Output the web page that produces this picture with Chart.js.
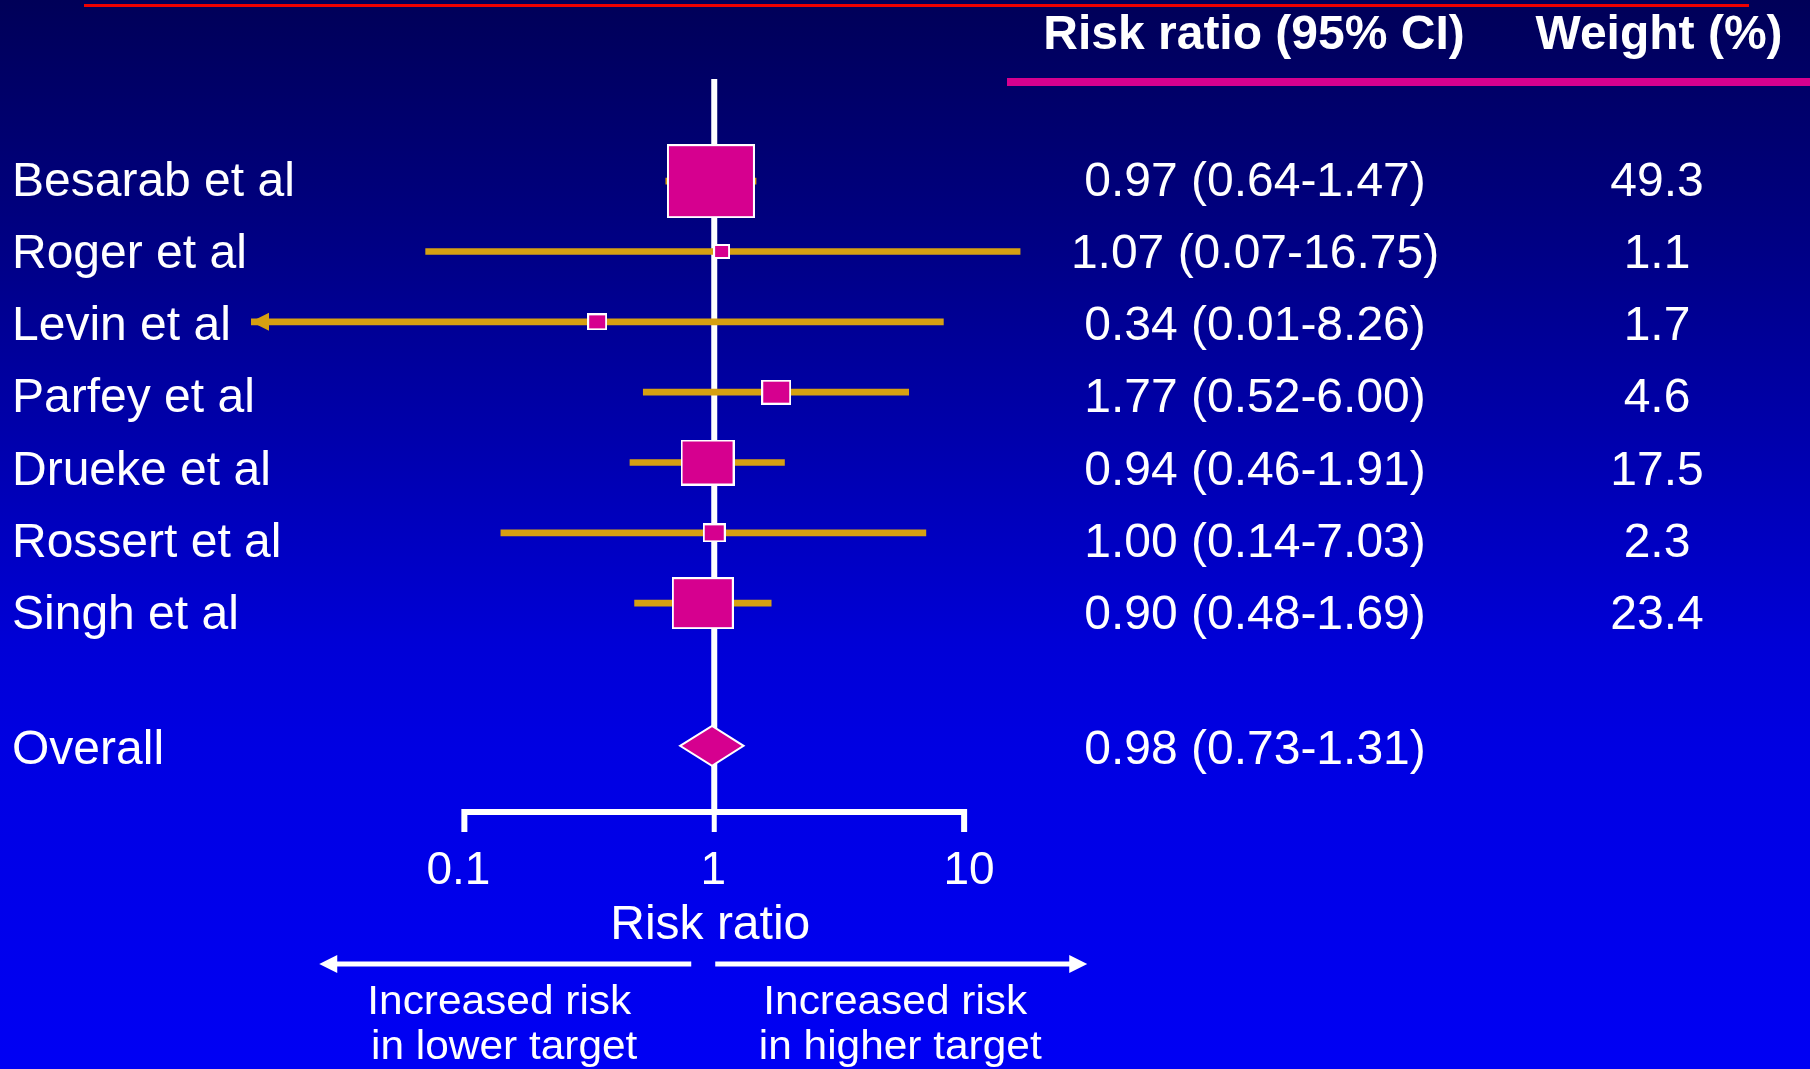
<!DOCTYPE html>
<html>
<head>
<meta charset="utf-8">
<script src="https://cdn.jsdelivr.net/npm/chart.js@4.4.0/dist/chart.umd.min.js"></script>
<style>
html, body { margin: 0; padding: 0; overflow: hidden; background: #0000b0; }
#wrap { width: 1810px; height: 1069px; position: relative; }
</style>
</head>
<body>
<div id="wrap"><canvas id="forestChart"></canvas></div>
<script>
// study data
var studies = ["Besarab et al", "Roger et al", "Levin et al", "Parfey et al", "Drueke et al", "Rossert et al", "Singh et al"];
var riskRatio = [0.97, 1.07, 0.34, 1.77, 0.94, 1.00, 0.90];
var ciLower = [0.64, 0.07, 0.01, 0.52, 0.46, 0.14, 0.48];
var ciUpper = [1.47, 16.75, 8.26, 6.00, 1.91, 7.03, 1.69];
var weights = [49.3, 1.1, 1.7, 4.6, 17.5, 2.3, 23.4];
var overallLabel = "Overall";
var overall = [0.98, 0.73, 1.31];   // estimate, lower, upper
var axisTicks = [0.1, 1, 10];
var axisTickLabels = ["0.1", "1", "10"];

var MAGENTA = "#d6008f";
var GOLD = "#d6a012";
var FONT = "'Liberation Sans', Arial, sans-serif";

var rowLabels = studies.concat(["", overallLabel]);

// square markers, size from weight
function makeBox(w) {
  var c = document.createElement('canvas');
  c.width = Math.round(w);
  c.height = Math.round(w * 0.84);
  var g = c.getContext('2d');
  g.fillStyle = '#ffffff';
  g.fillRect(0, 0, c.width, c.height);
  g.fillStyle = MAGENTA;
  g.fillRect(2, 2, c.width - 4, c.height - 4);
  return c;
}
var boxes = weights.map(function (w) { return makeBox(5 + 11.8 * Math.sqrt(w)); });

function fmt2(v) { return v.toFixed(2); }

var forestDecor = {
  id: 'forestDecor',
  beforeDraw: function (chart) {
    var ctx = chart.ctx;
    var grad = ctx.createLinearGradient(0, 0, 0, chart.height);
    grad.addColorStop(0, '#000058');
    grad.addColorStop(0.2, '#00007e');
    grad.addColorStop(0.6, '#0000d6');
    grad.addColorStop(0.7, '#0000e2');
    grad.addColorStop(1, '#0000f4');
    ctx.save();
    ctx.fillStyle = grad;
    ctx.fillRect(0, 0, chart.width, chart.height);
    ctx.restore();
  },
  beforeDatasetsDraw: function (chart) {
    var ctx = chart.ctx, x = chart.scales.x, area = chart.chartArea;
    var x1 = x.getPixelForValue(1);
    ctx.save();
    ctx.strokeStyle = '#ffffff';
    ctx.lineWidth = 6;
    ctx.beginPath();
    ctx.moveTo(x1, area.top - 67);
    ctx.lineTo(x1, area.bottom + 33);
    ctx.stroke();
    ctx.restore();
  },
  afterDatasetsDraw: function (chart) {
    var ctx = chart.ctx, xs = chart.scales.x, ys = chart.scales.y, area = chart.chartArea;
    var x1 = xs.getPixelForValue(1);
    ctx.save();

    // arrow for CI running off the scale
    ciLower.forEach(function (lo, i) {
      if (lo < xs.min) {
        var yy = ys.getPixelForValue(i);
        ctx.fillStyle = GOLD;
        ctx.beginPath();
        ctx.moveTo(area.left, yy);
        ctx.lineTo(area.left + 18, yy - 9);
        ctx.lineTo(area.left + 18, yy + 9);
        ctx.closePath();
        ctx.fill();
      }
    });

    // overall diamond
    var yo = ys.getPixelForValue(rowLabels.length - 1) + 2;
    ctx.beginPath();
    ctx.moveTo(xs.getPixelForValue(overall[1]), yo);
    ctx.lineTo(xs.getPixelForValue(overall[0]), yo - 20);
    ctx.lineTo(xs.getPixelForValue(overall[2]), yo);
    ctx.lineTo(xs.getPixelForValue(overall[0]), yo + 20);
    ctx.closePath();
    ctx.fillStyle = MAGENTA;
    ctx.fill();
    ctx.strokeStyle = '#ffffff';
    ctx.lineWidth = 2;
    ctx.stroke();

    // bottom axis 0.1 - 10
    var axY = area.bottom + 33;
    var xa = xs.getPixelForValue(axisTicks[0]);
    var xb = xs.getPixelForValue(axisTicks[axisTicks.length - 1]);
    ctx.strokeStyle = '#ffffff';
    ctx.lineWidth = 6;
    ctx.lineJoin = 'miter';
    ctx.beginPath();
    ctx.moveTo(xa, axY + 20);
    ctx.lineTo(xa, axY);
    ctx.lineTo(xb, axY);
    ctx.lineTo(xb, axY + 20);
    ctx.stroke();
    ctx.lineWidth = 5;
    axisTicks.slice(1, -1).forEach(function (t) {
      var tx = xs.getPixelForValue(t);
      ctx.beginPath();
      ctx.moveTo(tx, axY);
      ctx.lineTo(tx, axY + 20);
      ctx.stroke();
    });

    ctx.fillStyle = '#ffffff';
    ctx.textAlign = 'center';
    ctx.textBaseline = 'alphabetic';
    ctx.font = '46px ' + FONT;
    var tickNudge = [-6, -1, 5];
    axisTicks.forEach(function (t, i) {
      ctx.fillText(axisTickLabels[i], xs.getPixelForValue(t) + tickNudge[i], axY + 72);
    });
    ctx.font = '48px ' + FONT;
    ctx.fillText('Risk ratio', x1 - 4, axY + 127);

    // direction arrows
    var arY = axY + 152;
    ctx.lineWidth = 5;
    ctx.beginPath();
    ctx.moveTo(x1 - 23, arY);
    ctx.lineTo(x1 - 380, arY);
    ctx.moveTo(x1 + 1, arY);
    ctx.lineTo(x1 + 358, arY);
    ctx.stroke();
    ctx.beginPath();
    ctx.moveTo(x1 - 395, arY);
    ctx.lineTo(x1 - 377, arY - 9);
    ctx.lineTo(x1 - 377, arY + 9);
    ctx.closePath();
    ctx.moveTo(x1 + 373, arY);
    ctx.lineTo(x1 + 355, arY - 9);
    ctx.lineTo(x1 + 355, arY + 9);
    ctx.closePath();
    ctx.fill();

    function stretchText(txt, x, y, sx) {
      ctx.save();
      ctx.translate(x, y);
      ctx.scale(sx, 1);
      ctx.fillText(txt, 0, 0);
      ctx.restore();
    }
    ctx.font = '40px ' + FONT;
    stretchText('Increased risk', x1 - 215, arY + 50, 1.06);
    stretchText('in lower target', x1 - 210, arY + 95, 1.06);
    stretchText('Increased risk', x1 + 181, arY + 50, 1.06);
    stretchText('in higher target', x1 + 186, arY + 95, 1.06);

    // row labels, CI text and weights (text rows are spaced a bit wider than the marks)
    ctx.font = '48px ' + FONT;
    var textTop = ys.getPixelForValue(0) + 15;
    rowLabels.forEach(function (lab, i) {
      var yy = i < studies.length ? textTop + i * 72.1 : ys.getPixelForValue(i) + 20;
      ctx.textAlign = 'left';
      ctx.fillText(lab, 12, yy);
      ctx.textAlign = 'center';
      if (i < studies.length) {
        ctx.fillText(fmt2(riskRatio[i]) + ' (' + fmt2(ciLower[i]) + '-' + fmt2(ciUpper[i]) + ')', 1255, yy);
        ctx.fillText(weights[i].toFixed(1), 1657, yy);
      } else if (lab === overallLabel) {
        ctx.fillText(fmt2(overall[0]) + ' (' + fmt2(overall[1]) + '-' + fmt2(overall[2]) + ')', 1255, yy);
      }
    });

    // header
    ctx.font = 'bold 48px ' + FONT;
    ctx.textAlign = 'center';
    ctx.fillText('Risk ratio (95% CI)', 1254, 49);
    ctx.fillText('Weight (%)', 1659, 49);

    // decorative rules
    ctx.fillStyle = '#ee0000';
    ctx.fillRect(84, 4, 1665, 3);
    ctx.fillStyle = MAGENTA;
    ctx.fillRect(1007, 78, 803, 8);

    ctx.restore();
  }
};

var ctxF = document.getElementById('forestChart').getContext('2d');
var forestChart = new Chart(ctxF, {
  type: 'bar',
  data: {
    labels: rowLabels,
    datasets: [{
      label: 'CI',
      data: ciLower.map(function (lo, i) { return [lo, ciUpper[i]]; }).concat([null, null]),
      backgroundColor: GOLD,
      borderWidth: 0,
      barThickness: 6,
      clip: 0,
      order: 2
    }, {
      type: 'line',
      label: 'Risk ratio',
      indexAxis: 'y',
      data: riskRatio.concat([null, null]),
      showLine: false,
      pointRadius: 10,
      pointStyle: function (c) { return boxes[c.dataIndex] || 'rect'; },
      order: 1
    }]
  },
  options: {
    indexAxis: 'y',
    responsive: true,
    maintainAspectRatio: false,
    animation: false,
    events: [],
    layout: { padding: { left: 251, right: 596, top: 146, bottom: 290 } },
    scales: {
      x: { type: 'logarithmic', min: 0.014, max: 100, bounds: 'data', display: false },
      y: { display: false }
    },
    plugins: { legend: { display: false }, tooltip: { enabled: false } }
  },
  plugins: [forestDecor]
});
</script>
</body>
</html>
